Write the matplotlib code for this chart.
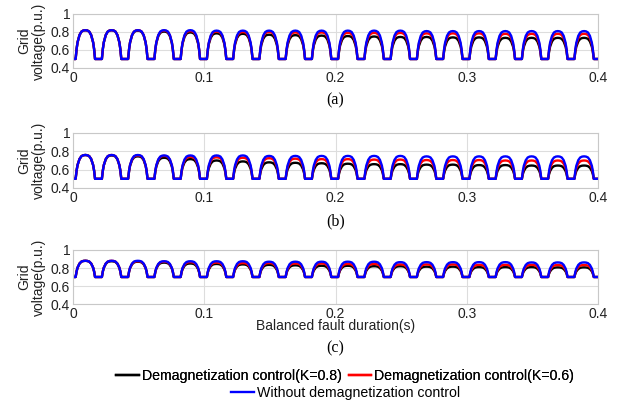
import numpy as np
import matplotlib
matplotlib.use("Agg")
import matplotlib.pyplot as plt
from matplotlib.lines import Line2D

plt.rcParams['font.family'] = ['Liberation Sans', 'DejaVu Sans']

# Period of one hump (s) and number of humps on the 0-0.4 s window
period = 0.02
n_cycles = 20

# Shape of one cycle: phase in the cycle -> fraction of hump height
cycle_phase = [0.0, 0.10, 0.137, 0.174, 0.248, 0.322, 0.396, 0.47,
               0.544, 0.618, 0.692, 0.766, 0.803, 0.84]
cycle_frac = [0.0, 0.0, 0.35, 0.58, 0.83, 0.95, 0.99, 1.0,
              0.99, 0.95, 0.83, 0.58, 0.35, 0.0]

# Floor level of each panel (p.u.)
floor_a = 0.5
floor_b = 0.5
floor_c = 0.7

# Peak of every hump, per panel and series
peaks_a_k08 = [0.82, 0.82, 0.815, 0.805, 0.795, 0.785, 0.78, 0.77, 0.765, 0.76,
               0.755, 0.75, 0.745, 0.745, 0.74, 0.74, 0.735, 0.735, 0.735, 0.735]
peaks_a_k06 = [0.82, 0.82, 0.82, 0.815, 0.81, 0.805, 0.80, 0.80, 0.795, 0.795,
               0.79, 0.79, 0.79, 0.785, 0.785, 0.785, 0.78, 0.78, 0.78, 0.78]
peaks_a_none = [0.82, 0.82, 0.82, 0.82, 0.82, 0.815, 0.815, 0.815, 0.815, 0.815,
                0.815, 0.815, 0.815, 0.81, 0.81, 0.81, 0.81, 0.81, 0.81, 0.81]

peaks_b_k08 = [0.76, 0.755, 0.745, 0.73, 0.715, 0.70, 0.69, 0.68, 0.675, 0.67,
               0.665, 0.66, 0.66, 0.655, 0.655, 0.65, 0.65, 0.645, 0.645, 0.645]
peaks_b_k06 = [0.76, 0.76, 0.755, 0.75, 0.74, 0.735, 0.73, 0.725, 0.72, 0.715,
               0.715, 0.71, 0.71, 0.705, 0.705, 0.705, 0.70, 0.70, 0.70, 0.70]
peaks_b_none = [0.76, 0.76, 0.76, 0.755, 0.755, 0.755, 0.755, 0.75, 0.75, 0.75,
                0.75, 0.75, 0.75, 0.745, 0.745, 0.745, 0.745, 0.745, 0.745, 0.745]

peaks_c_k08 = [0.88, 0.875, 0.87, 0.86, 0.85, 0.845, 0.84, 0.835, 0.83, 0.825,
               0.825, 0.82, 0.82, 0.815, 0.815, 0.81, 0.81, 0.81, 0.807, 0.807]
peaks_c_k06 = [0.88, 0.88, 0.875, 0.87, 0.865, 0.86, 0.855, 0.855, 0.85, 0.85,
               0.845, 0.845, 0.84, 0.84, 0.84, 0.835, 0.835, 0.835, 0.833, 0.833]
peaks_c_none = [0.88, 0.88, 0.88, 0.875, 0.875, 0.875, 0.875, 0.87, 0.87, 0.87,
                0.87, 0.87, 0.865, 0.865, 0.865, 0.865, 0.865, 0.862, 0.862, 0.862]

x_ticks = [0, 0.1, 0.2, 0.3, 0.4]
x_tick_labels = ["0", "0.1", "0.2", "0.3", "0.4"]
y_ticks = [0.4, 0.6, 0.8, 1.0]
y_tick_labels = ["0.4", "0.6", "0.8", "1"]

labels = ["Demagnetization control(K=0.8)", "Demagnetization control(K=0.6)",
          "Without demagnetization control"]
colors = ["#000000", "#ff0000", "#0000ff"]


# Put the hump template at every cycle with its own peak
def waveform(peaks, floor):
    t = []
    v = []
    for k, pk in enumerate(peaks):
        for ph, fr in zip(cycle_phase, cycle_frac):
            t.append((k + ph) * period)
            v.append(floor + fr * (pk - floor))
    t.append(n_cycles * period)
    v.append(floor)
    return np.array(t), np.array(v)


fig = plt.figure(figsize=(6.25, 4.04), dpi=100)

panels = [
    ((0.1168, 0.8317, 0.84, 0.1337), floor_a, [peaks_a_k08, peaks_a_k06, peaks_a_none], "(a)"),
    ((0.1168, 0.5347, 0.84, 0.1361), floor_b, [peaks_b_k08, peaks_b_k06, peaks_b_none], "(b)"),
    ((0.1168, 0.2475, 0.84, 0.1337), floor_c, [peaks_c_k08, peaks_c_k06, peaks_c_none], "(c)"),
]

for rect, floor, series, tag in panels:
    ax = fig.add_axes(rect)
    for peaks, c in zip(series, colors):
        t, v = waveform(peaks, floor)
        ax.plot(t, v, color=c, linewidth=1.7)
    ax.set_xlim(0, 0.4)
    ax.set_ylim(0.4, 1.0)
    ax.set_xticks(x_ticks)
    ax.set_xticklabels(x_tick_labels)
    ax.set_yticks(y_ticks)
    ax.set_yticklabels(y_tick_labels)
    ax.tick_params(length=0, labelsize=10, pad=2, colors="#222222")
    ax.grid(True, color="#dddddd", linewidth=0.8)
    ax.set_axisbelow(True)
    for s in ax.spines.values():
        s.set_color("#c8c8c8")
        s.set_linewidth(0.8)
    ax.set_ylabel("Grid\nvoltage(p.u.)", fontsize=10, linespacing=1.0, color="#222222")
    ax.yaxis.set_label_coords(-0.052, 0.5)
    if tag == "(c)":
        ax.set_xlabel("Balanced fault duration(s)", fontsize=10, labelpad=-1, color="#222222")
        ax.text(0.5, -0.83, tag, transform=ax.transAxes, ha="center", va="center",
                family="Liberation Serif", fontsize=11.5)
    else:
        ax.text(0.5, -0.6, tag, transform=ax.transAxes, ha="center", va="center",
                family="Liberation Serif", fontsize=11.5)

# Legend: two entries on the first row, the third centred under them
h = [Line2D([0], [0], color=c, linewidth=1.7) for c in colors]
leg1 = fig.legend(h[:2], labels[:2], ncol=2, loc="center", bbox_to_anchor=(0.552, 1 - 376 / 404),
                  frameon=False, fontsize=10.2, handlelength=1.6, handletextpad=0.2,
                  columnspacing=0.5, borderpad=0, borderaxespad=0)
fig.add_artist(leg1)
fig.legend(h[2:], labels[2:], loc="center", bbox_to_anchor=(0.553, 1 - 393 / 404),
           frameon=False, fontsize=10.2, handlelength=1.6, handletextpad=0.2,
           borderpad=0, borderaxespad=0)

fig.savefig("out.png", dpi=100)
